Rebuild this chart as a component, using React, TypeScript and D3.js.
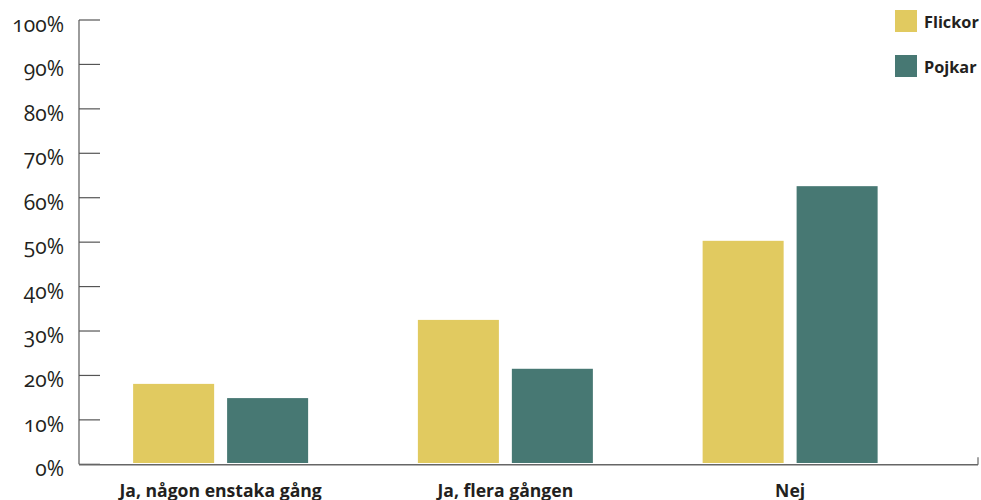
import React from "react";
import * as d3 from "d3";

// Survey answers, share of respondents per group (percent)
const categories = ["Ja, någon enstaka gång", "Ja, flera gången", "Nej"];
const seriesNames = ["Flickor", "Pojkar"];
const flickor = [18.1, 32.5, 50.3];
const pojkar = [14.9, 21.5, 62.6];
const yTicks = [0, 10, 20, 30, 40, 50, 60, 70, 80, 90, 100];
const colors = ["#e1ca60", "#477873"];

const W = 981;
const H = 500;

export default function App() {
  const y = d3.scaleLinear().domain([0, 100]).range([464.3, 20]);
  const x = d3.scaleBand<string>().domain(categories).range([78.25, 932.5]).padding(0);
  const values = [flickor, pojkar];

  const axisX = 79;
  const axisEnd = 978;

  return (
    <div style={{ position: "absolute", left: 0, top: 0 }}>
      <svg width={W} height={H} style={{ display: "block", background: "#fff" }}>
        {/* bars */}
        {categories.map((c, i) => {
          const center = (x(c) as number) + x.bandwidth() / 2;
          const inner = d3
            .scaleBand<string>()
            .domain(seriesNames)
            .range([center - 87.5, center + 87.5])
            .paddingInner(0.138)
            .paddingOuter(0);
          return (
            <g key={c}>
              {seriesNames.map((s, j) => (
                <rect
                  key={s}
                  x={inner(s)}
                  y={y(values[j][i])}
                  width={inner.bandwidth()}
                  height={y(0) - 1.3 - y(values[j][i])}
                  fill={colors[j]}
                />
              ))}
              <text
                x={center}
                y={496.5}
                textAnchor="middle"
                fontFamily="'Open Sans', sans-serif"
                fontWeight={700}
                fontSize={17.6}
                fill="#231f20"
              >
                {c}
              </text>
            </g>
          );
        })}

        {/* y axis */}
        <line x1={axisX} x2={axisX} y1={y(100)} y2={y(0)} stroke="#666" strokeWidth={1.3} />
        {yTicks.map((t) => (
          <g key={t}>
            <line x1={axisX} x2={100} y1={y(t)} y2={y(t)} stroke="#555" strokeWidth={1.2} />
            <text
              x={64}
              y={y(t) + 12}
              textAnchor="end"
              fontFamily="'Open Sans', sans-serif"
              fontSize={21}
              style={{ fontVariantNumeric: "oldstyle-nums" }}
              fill="#231f20"
            >
              {t}%
            </text>
          </g>
        ))}

        {/* x axis */}
        <line x1={axisX} x2={axisEnd} y1={y(0) + 0.5} y2={y(0) + 0.5} stroke="#666" strokeWidth={1.5} />
        <line x1={axisEnd} x2={axisEnd} y1={y(0) + 0.5} y2={y(0) - 7} stroke="#666" strokeWidth={1.2} />

        {/* legend */}
        {seriesNames.map((s, j) => (
          <g key={s} transform={`translate(895, ${10 + j * 45})`}>
            <rect width={22} height={22} fill={colors[j]} />
            <text
              x={29}
              y={18}
              fontFamily="'Open Sans', sans-serif"
              fontWeight={700}
              fontSize={16.3}
              fill="#231f20"
            >
              {s}
            </text>
          </g>
        ))}
      </svg>
    </div>
  );
}
